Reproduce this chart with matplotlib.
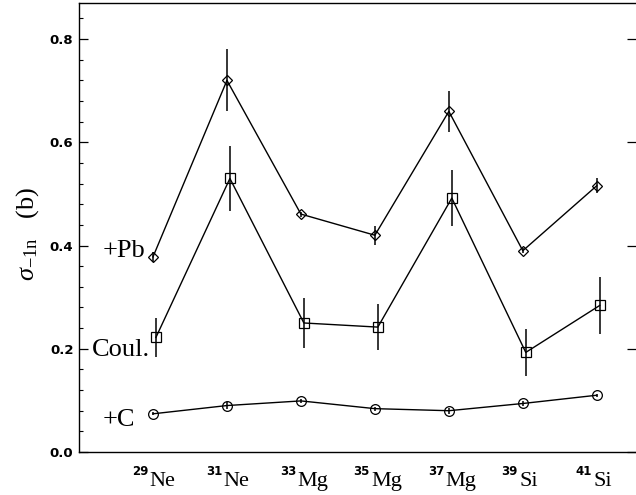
import matplotlib
matplotlib.use("Agg")
import matplotlib.pyplot as plt
from matplotlib.ticker import MultipleLocator

nuclei = ["29", "31", "33", "35", "37", "39", "41"]
elements = ["Ne", "Ne", "Mg", "Mg", "Mg", "Si", "Si"]

pb = [0.378, 0.720, 0.461, 0.420, 0.660, 0.390, 0.516]
pb_err = [0.009, 0.060, 0.005, 0.018, 0.040, 0.005, 0.014]

coul = [0.222, 0.530, 0.250, 0.242, 0.492, 0.193, 0.284]
coul_err = [0.038, 0.063, 0.048, 0.044, 0.055, 0.045, 0.055]

carbon = [0.074, 0.090, 0.099, 0.084, 0.080, 0.094, 0.110]
carbon_err = [0.003, 0.006, 0.004, 0.004, 0.006, 0.004, 0.003]

plt.rcParams['mathtext.fontset'] = 'custom'
plt.rcParams['mathtext.rm'] = 'Liberation Serif'
plt.rcParams['mathtext.it'] = 'Liberation Serif:italic'

fig = plt.figure(figsize=(6.36, 4.95), dpi=100)
ax = fig.add_axes([79 / 636, 43 / 495, 1 - 79 / 636, 449 / 495])

x = list(range(len(nuclei)))
xs = [i + 0.04 for i in x]

ax.errorbar(x, pb, yerr=pb_err, color='black', lw=1, elinewidth=1.1,
            marker='D', ms=5, mfc='none', mec='black', mew=0.9, capsize=0)
ax.errorbar(xs, coul, yerr=coul_err, color='black', lw=1, elinewidth=1.1,
            marker='s', ms=7, mfc='none', mec='black', mew=0.9, capsize=0)
ax.errorbar(x, carbon, yerr=carbon_err, color='black', lw=1, elinewidth=1.1,
            marker='o', ms=7, mfc='none', mec='black', mew=0.9, capsize=0)

ax.set_xlim(-1.0, 6.53)
ax.set_ylim(0, 0.87)

ax.yaxis.set_major_locator(MultipleLocator(0.2))
ax.yaxis.set_minor_locator(MultipleLocator(0.04))
ax.tick_params(axis='y', which='major', direction='in', length=6.5, width=0.9,
               right=True, pad=4)
ax.tick_params(axis='y', which='minor', direction='in', length=3.2, width=0.8,
               right=False)
ax.set_yticks([0.0, 0.2, 0.4, 0.6, 0.8])
ax.set_yticklabels(['0.0', '0.2', '0.4', '0.6', '0.8'],
                   fontfamily='DejaVu Sans', fontweight='bold', fontsize=9.5)

# isotope labels: small sans mass number, serif element symbol
ax.set_xticks([])
for i, (n, e) in enumerate(zip(nuclei, elements)):
    ax.annotate(e, xy=(i, 0), xycoords=('data', 'axes fraction'),
                xytext=(-2.5, -24.5), textcoords='offset points',
                ha='left', va='baseline', fontsize=16,
                fontfamily='Liberation Serif')
    ax.annotate(n, xy=(i, 0), xycoords=('data', 'axes fraction'),
                xytext=(-3.5, -16.5), textcoords='offset points',
                ha='right', va='baseline', fontsize=8.5, fontweight='bold',
                fontfamily='DejaVu Sans')

ax.spines['right'].set_visible(False)
for s in ['left', 'top', 'bottom']:
    ax.spines[s].set_linewidth(1.0)

ax.set_ylabel(r'$\mathit{\sigma}_{-1\mathrm{n}}$   (b)', fontsize=19,
              fontfamily='Liberation Serif')
ax.yaxis.set_label_coords(-0.068, 0.486)

ax.text(-0.68, 0.39, '+Pb', fontsize=19, fontfamily='Liberation Serif',
        va='center', ha='left')
ax.text(-0.82, 0.197, 'Coul.', fontsize=19, fontfamily='Liberation Serif',
        va='center', ha='left')
ax.text(-0.68, 0.062, '+C', fontsize=19, fontfamily='Liberation Serif',
        va='center', ha='left')

fig.savefig('out.png', dpi=100)
